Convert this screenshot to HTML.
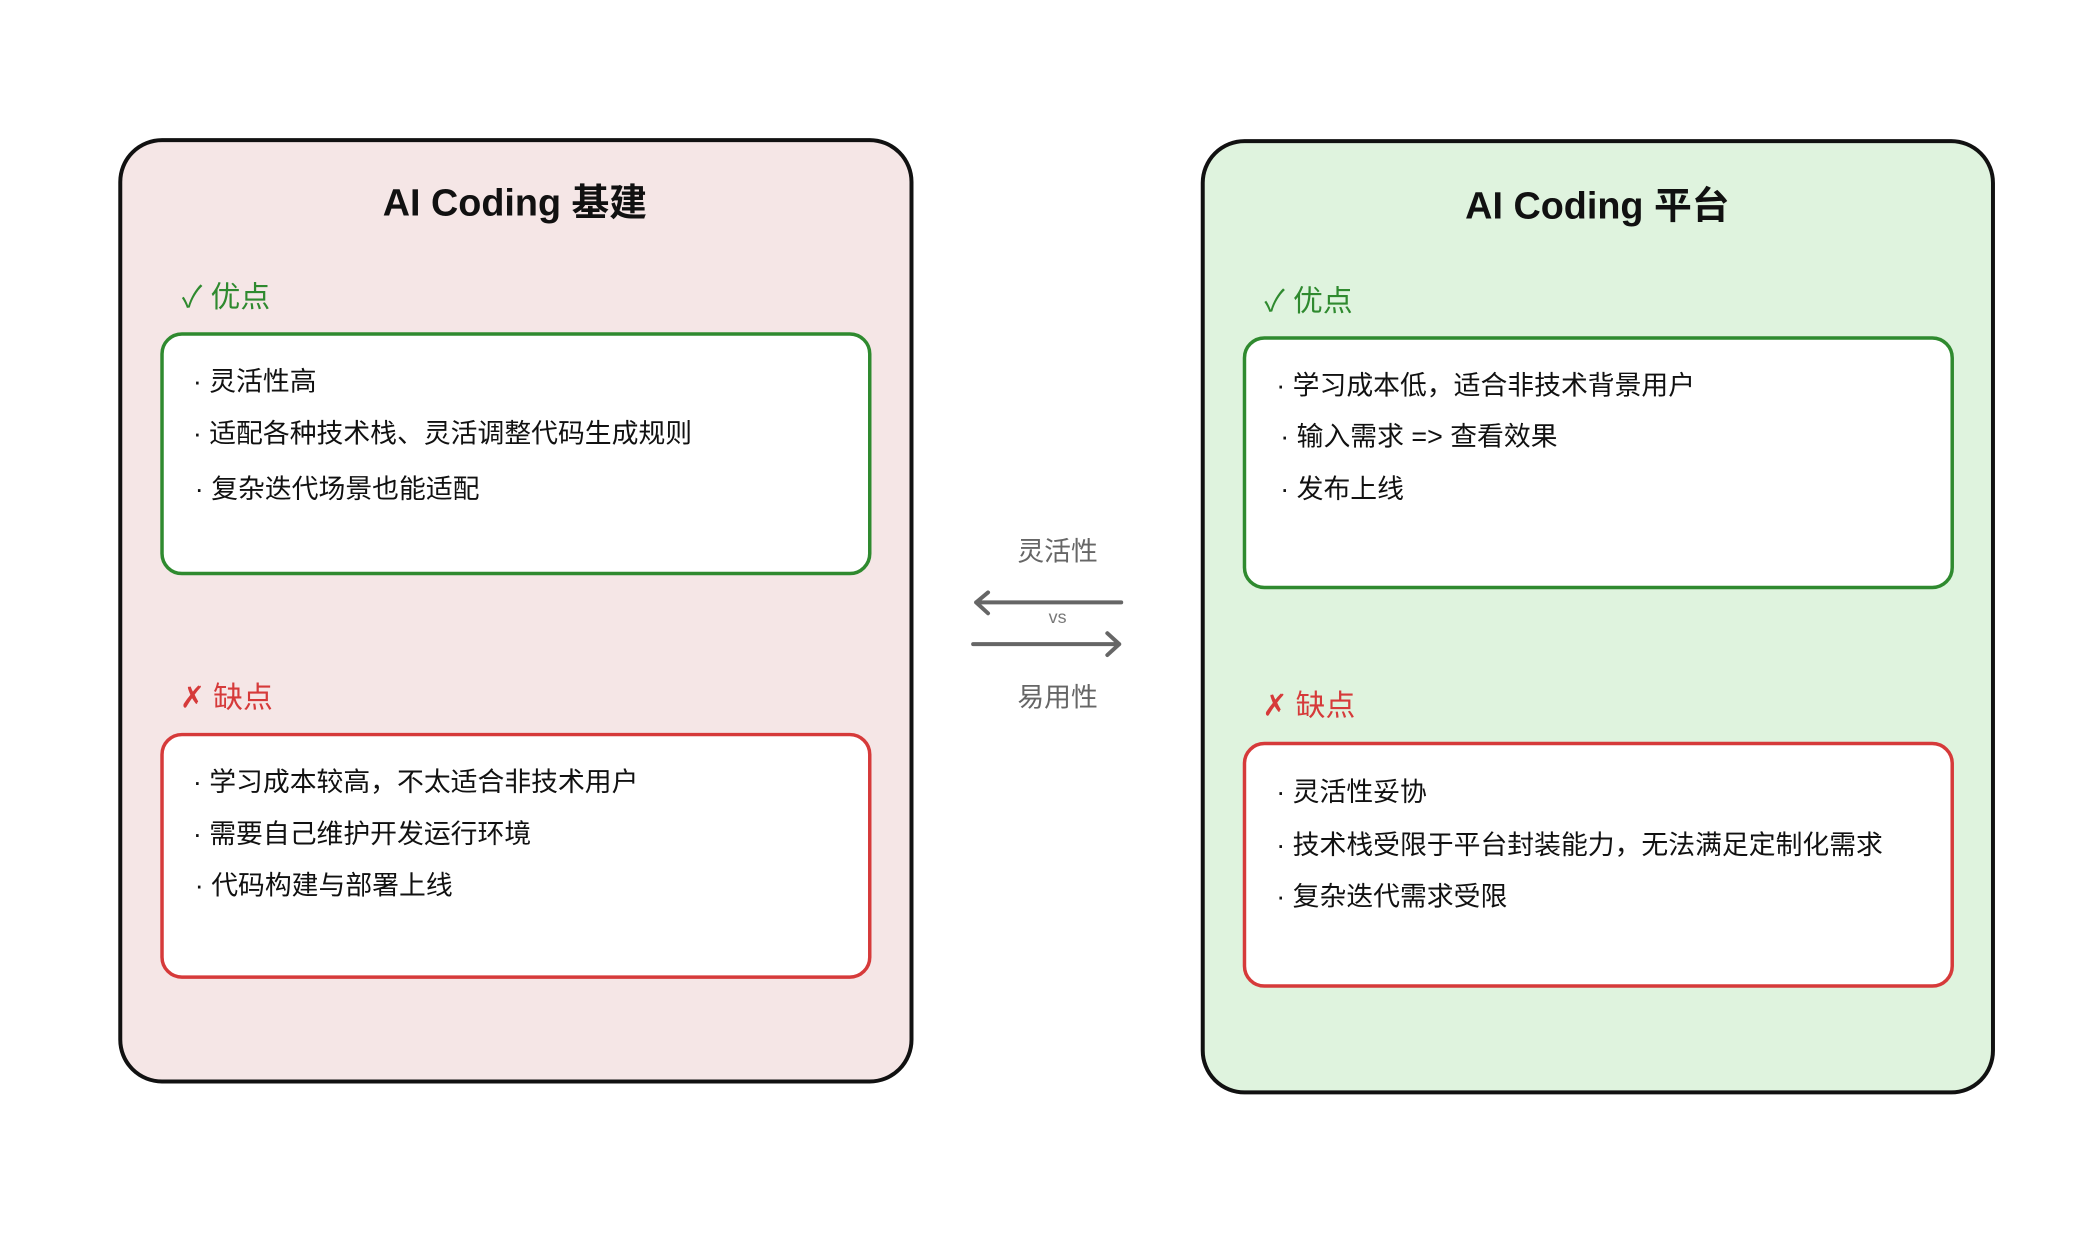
<!DOCTYPE html>
<html><head><meta charset="utf-8"><style>
html,body{margin:0;padding:0;background:#fff;}
svg text{font-family:"Liberation Sans","Noto Sans CJK SC",sans-serif;}
</style></head><body>
<svg width="2083" height="1250" viewBox="0 0 2083 1250" xmlns="http://www.w3.org/2000/svg">
<rect x="0" y="0" width="2083" height="1250" fill="#fff"/>
<g transform="scale(0.994)">
<!-- Left -->
<rect x="121" y="141" width="796" height="947" rx="42" fill="#f5e6e6" stroke="#111" stroke-width="4"/>
<text x="518" y="217" font-size="38" font-weight="bold" text-anchor="middle" fill="#111">AI Coding 基建</text>
<text x="183" y="309" font-size="30" fill="#2f8a2f">✓ 优点</text>
<rect x="163" y="336" width="712" height="241" rx="20" fill="#fff" stroke="#2f8a2f" stroke-width="3.5"/>
<g font-size="27" fill="#111">
<text x="194" y="393">· 灵活性高</text>
<text x="194" y="445">· 适配各种技术栈、灵活调整代码生成规则</text>
<text x="196" y="501">· 复杂迭代场景也能适配</text>
</g>
<text x="181" y="712" font-size="30" fill="#d63a3a">✗ 缺点</text>
<rect x="163" y="739" width="712" height="244" rx="20" fill="#fff" stroke="#d63a3a" stroke-width="3.5"/>
<g font-size="27" fill="#111">
<text x="194" y="796">· 学习成本较高，不太适合非技术用户</text>
<text x="194" y="848">· 需要自己维护开发运行环境</text>
<text x="196" y="900">· 代码构建与部署上线</text>
</g>
<!-- Middle -->
<text x="1064" y="564" font-size="27" fill="#666" text-anchor="middle">灵活性</text>
<path d="M982 606 L1128 606 M982 606 L994 596 M982 606 L994 617" stroke="#666" stroke-width="4" fill="none" stroke-linecap="round"/>
<text x="1064" y="627" font-size="18" fill="#777" text-anchor="middle">vs</text>
<path d="M979 648 L1126 648 M1126 648 L1114 637 M1126 648 L1114 659" stroke="#666" stroke-width="4" fill="none" stroke-linecap="round"/>
<text x="1064" y="711" font-size="27" fill="#666" text-anchor="middle">易用性</text>
<!-- Right -->
<rect x="1210" y="142" width="795" height="957" rx="42" fill="#dff3de" stroke="#111" stroke-width="4"/>
<text x="1607" y="220" font-size="38" font-weight="bold" text-anchor="middle" fill="#111">AI Coding 平台</text>
<text x="1272" y="313" font-size="30" fill="#2f8a2f">✓ 优点</text>
<rect x="1252" y="340" width="712" height="251" rx="20" fill="#fff" stroke="#2f8a2f" stroke-width="3.5"/>
<g font-size="27" fill="#111">
<text x="1284" y="397">· 学习成本低，适合非技术背景用户</text>
<text x="1288" y="448">· 输入需求 =&gt; 查看效果</text>
<text x="1288" y="501">· 发布上线</text>
</g>
<text x="1270" y="720" font-size="30" fill="#d63a3a">✗ 缺点</text>
<rect x="1252" y="748" width="712" height="244" rx="20" fill="#fff" stroke="#d63a3a" stroke-width="3.5"/>
<g font-size="27" fill="#111">
<text x="1284" y="806">· 灵活性妥协</text>
<text x="1284" y="859">· 技术栈受限于平台封装能力，无法满足定制化需求</text>
<text x="1284" y="911">· 复杂迭代需求受限</text>
</g>
</g>
</svg>
</body></html>
